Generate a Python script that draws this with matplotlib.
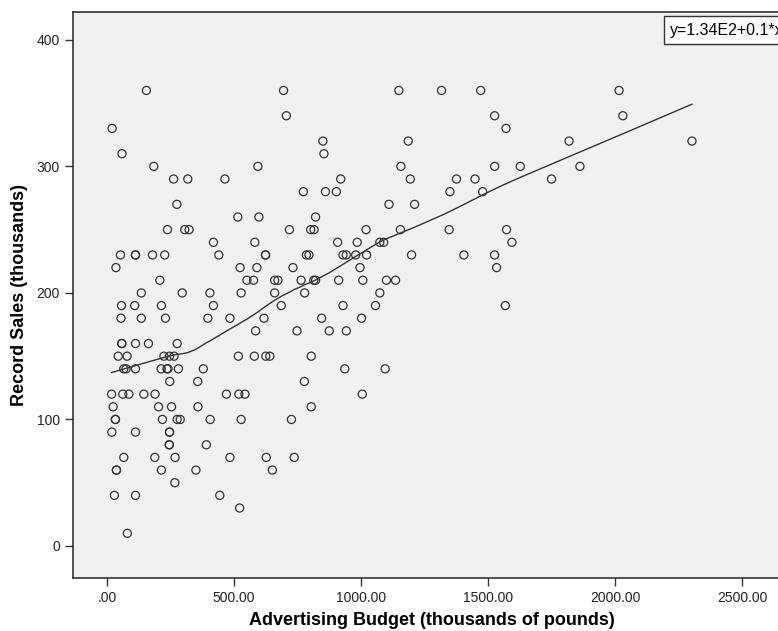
import numpy as np
import matplotlib
matplotlib.use("Agg")
import matplotlib.pyplot as plt

plt.rcParams['font.family'] = ['Liberation Sans', 'DejaVu Sans']

# advertising budget (thousands of pounds) and record sales (thousands)
budget = [
    155, 695, 1149, 1317, 1471, 2016,                 # 360
    706, 1526, 2031,                                  # 340
    20, 1571,                                         # 330
    850, 1186, 1819, 2303,                            # 320
    59, 854,                                          # 310
    184, 594, 1157, 1526, 1627, 1862,                 # 300
    262, 318, 464, 920, 1194, 1376, 1449, 1750,       # 290
    773, 860, 903, 1350, 1479,                        # 280
    275, 1110, 1211,                                  # 270
    515, 598, 821,                                    # 260
    238, 306, 323, 718, 802, 815, 1020, 1155, 1347, 1573,   # 250
    419, 582, 908, 985, 1074, 1089, 1594,             # 240
    53, 112, 112, 179, 227, 440, 624, 624, 785, 795, 929, 942, 979, 1022, 1199, 1405, 1526,  # 230
    35, 524, 590, 732, 996, 1534,                     # 220
    208, 551, 577, 660, 673, 764, 814, 821, 912, 1007, 1100, 1136,  # 210
    135, 296, 405, 528, 660, 778, 1074,               # 200
    57, 109, 214, 419, 686, 929, 1057, 1568,          # 190
    55, 135, 230, 397, 484, 618, 845, 1002,           # 180
    585, 748, 875, 942,                               # 170
    58, 58, 112, 163, 276,                            # 160
    44, 79, 224, 246, 264, 517, 580, 625, 641, 804,   # 150
    66, 75, 112, 213, 236, 240, 281, 379, 936, 1095,  # 140
    247, 357, 777,                                    # 130
    18, 62, 86, 145, 189, 470, 519, 543, 1005,        # 120
    24, 203, 254, 358, 804,                           # 110
    33, 33, 218, 276, 288, 406, 528, 726,             # 100
    19, 112, 246, 246,                                # 90
    245, 245, 391,                                    # 80
    66, 188, 268, 484, 627, 737,                      # 70
    37, 37, 214, 350, 651,                            # 60
    267,                                              # 50
    29, 112, 444,                                     # 40
    522,                                              # 30
    80,                                               # 10
]
sales = (
    [360] * 6 + [340] * 3 + [330] * 2 + [320] * 4 + [310] * 2 + [300] * 6 +
    [290] * 8 + [280] * 5 + [270] * 3 + [260] * 3 + [250] * 10 + [240] * 7 +
    [230] * 17 + [220] * 6 + [210] * 12 + [200] * 7 + [190] * 8 + [180] * 8 +
    [170] * 4 + [160] * 5 + [150] * 10 + [140] * 10 + [130] * 3 + [120] * 9 +
    [110] * 5 + [100] * 8 + [90] * 4 + [80] * 3 + [70] * 6 + [60] * 5 +
    [50] * 1 + [40] * 3 + [30] * 1 + [10] * 1
)

x_ticks = [0, 500, 1000, 1500, 2000, 2500]
x_labels = ['.00', '500.00', '1000.00', '1500.00', '2000.00', '2500.00']
y_ticks = [0, 100, 200, 300, 400]


def loess(x, y, frac=0.5, iters=1):
    # local linear fit, tricube weights, with robustness passes
    order = np.argsort(x)
    x = np.asarray(x, float)[order]
    y = np.asarray(y, float)[order]
    n = len(x)
    k = int(np.ceil(frac * n))
    robust = np.ones(n)
    fit = np.empty(n)
    for _ in range(iters + 1):
        for i, xi in enumerate(x):
            d = np.abs(x - xi)
            h = max(np.sort(d)[k - 1], 1e-9)
            w = np.clip(1 - (d / h) ** 3, 0, 1) ** 3 * robust
            sw = np.sqrt(w)
            A = np.column_stack([np.ones(n), x - xi])
            beta = np.linalg.lstsq(A * sw[:, None], y * sw, rcond=None)[0]
            fit[i] = beta[0]
        res = y - fit
        s = np.median(np.abs(res))
        robust = np.clip(1 - (res / (6 * s)) ** 2, 0, 1) ** 2
    return x, fit


fig = plt.figure(figsize=(7.78, 6.31), dpi=100)
ax = fig.add_axes([73 / 778, 53 / 631, 717 / 778, 566 / 631])
ax.set_facecolor('#f0f0f0')

ax.scatter(budget, sales, s=34, facecolors='none', edgecolors='#333333',
           linewidths=0.9, zorder=3)

lx, ly = loess(budget, sales, frac=0.5)
ax.plot(lx, ly, color='#333333', linewidth=1.0, zorder=4)

ax.set_xlim(-134, 2689)
ax.set_ylim(-25.3, 422)
ax.set_xticks(x_ticks)
ax.set_xticklabels(x_labels)
ax.set_yticks(y_ticks)
ax.tick_params(axis='both', direction='out', length=6, width=1, colors='#333333',
               labelsize=10, labelcolor='#222222')

for side in ['left', 'bottom', 'top', 'right']:
    ax.spines[side].set_color('#333333')
    ax.spines[side].set_linewidth(1.2)

ax.set_xlabel('Advertising Budget (thousands of pounds)', fontsize=13,
              fontweight='bold', labelpad=5)
ax.set_ylabel('Record Sales (thousands)', fontsize=13, fontweight='bold',
              labelpad=6)

fig.text(670 / 778, 1 - 30 / 631, 'y=1.34E2+0.1*x', fontsize=11.5,
         va='center', ha='left',
         bbox=dict(boxstyle='square,pad=0.4', facecolor='white',
                   edgecolor='#333333', linewidth=1))

fig.savefig('out.png', dpi=100)
